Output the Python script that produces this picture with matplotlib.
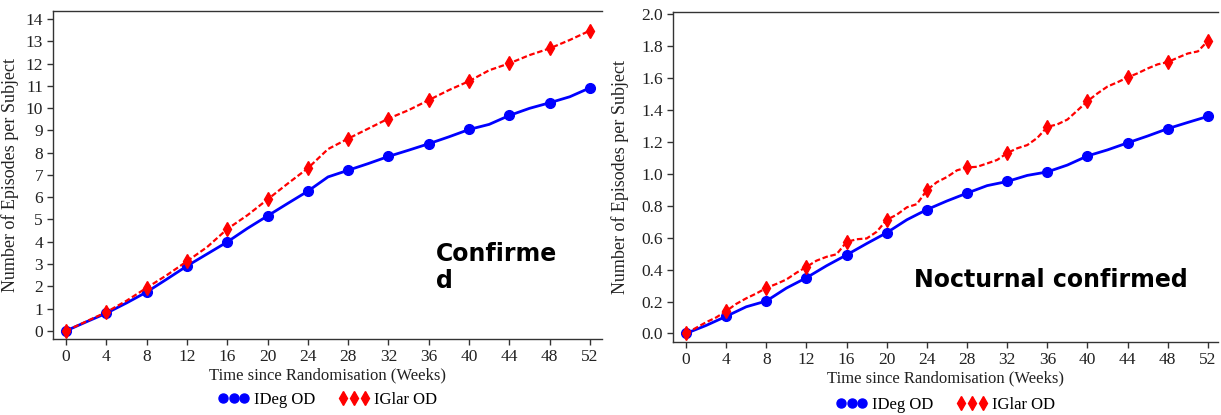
import matplotlib
matplotlib.use('Agg')
import matplotlib.pyplot as plt
from matplotlib.lines import Line2D
from matplotlib.ticker import FormatStrFormatter

# Confirmed episodes (left panel)
conf_weeks = list(range(0, 53, 2))
conf_ideg = [0, 0.4, 0.79, 1.25, 1.74, 2.32, 2.91, 3.45, 3.99, 4.6, 5.16, 5.72, 6.27,
             6.91, 7.21, 7.51, 7.83, 8.11, 8.4, 8.71, 9.04, 9.27, 9.67, 9.99, 10.24, 10.51, 10.91]
conf_iglar = [0, 0.42, 0.84, 1.35, 1.93, 2.5, 3.12, 3.76, 4.57, 5.19, 5.9, 6.61, 7.3,
              8.16, 8.63, 9.08, 9.53, 9.91, 10.36, 10.81, 11.21, 11.7, 12.01, 12.38, 12.68, 13.06, 13.48]

# Nocturnal confirmed episodes (right panel)
noct_ideg_weeks = list(range(0, 53, 2))
noct_ideg = [0, 0.05, 0.107, 0.167, 0.203, 0.284, 0.349, 0.424, 0.492, 0.563, 0.631, 0.712, 0.776,
             0.83, 0.879, 0.926, 0.952, 0.99, 1.012, 1.055, 1.112, 1.15, 1.194, 1.237, 1.283, 1.322, 1.36]
noct_iglar_weeks = list(range(0, 53))
noct_iglar = [0, 0.035, 0.07, 0.1, 0.14, 0.185, 0.22, 0.25, 0.285, 0.31, 0.338, 0.38, 0.417,
              0.456, 0.48, 0.496, 0.573, 0.59, 0.595, 0.637, 0.712, 0.744, 0.79, 0.81, 0.898,
              0.948, 0.98, 1.022, 1.04, 1.044, 1.065, 1.087, 1.13, 1.16, 1.18, 1.225, 1.294,
              1.31, 1.34, 1.397, 1.455, 1.504, 1.547, 1.574, 1.604, 1.63, 1.66, 1.686, 1.70,
              1.728, 1.754, 1.767, 1.833]

x_ticks = list(range(0, 53, 4))
conf_yticks = list(range(0, 15))
noct_yticks = [0.0, 0.2, 0.4, 0.6, 0.8, 1.0, 1.2, 1.4, 1.6, 1.8, 2.0]
labels = ['IDeg OD', 'IGlar OD']

BLUE = '#0000FF'
RED = '#FF0000'
SERIF = 'Liberation Serif'


def every4(weeks):
    return [i for i, w in enumerate(weeks) if w % 4 == 0]


def style_axes(ax, yticks, ylim, xlim):
    ax.spines['right'].set_visible(False)
    for s in ['left', 'bottom', 'top']:
        ax.spines[s].set_color('#333333')
        ax.spines[s].set_linewidth(1.0)
    ax.set_xticks(x_ticks)
    ax.set_yticks(yticks)
    ax.set_xlim(*xlim)
    ax.set_ylim(*ylim)
    ax.tick_params(direction='out', length=4, width=1, color='#333333', pad=3,
                   labelsize=12.5, labelcolor='#222222')
    for lab in ax.get_xticklabels() + ax.get_yticklabels():
        lab.set_fontfamily(SERIF)
    ax.set_xlabel('Time since Randomisation (Weeks)', fontfamily=SERIF, fontsize=12,
                  labelpad=2, color='#222222')
    ax.set_ylabel('Number of Episodes per Subject', fontfamily=SERIF, fontsize=13,
                  color='#222222')


def add_legend(ax, y):
    handles = [Line2D([], [], marker='o', linestyle='None', color=BLUE, markersize=6.5),
               Line2D([], [], marker='d', linestyle='None', color=RED, markersize=7.5)]
    ax.legend(handles, labels, loc='center', bbox_to_anchor=(0.5, y), ncol=2, numpoints=3,
              frameon=False, handlelength=1.9, handletextpad=0.25, columnspacing=1.4,
              prop={'family': SERIF, 'size': 12})


fig = plt.figure(figsize=(12.21, 4.15), dpi=100)
ax1 = fig.add_axes([0.0432, 0.183, 0.4498, 0.791])
ax2 = fig.add_axes([0.551, 0.175, 0.4465, 0.795])

# left panel
ax1.plot(conf_weeks, conf_ideg, color=BLUE, lw=2, marker='o', markersize=7,
         markevery=every4(conf_weeks))
ax1.plot(conf_weeks, conf_iglar, color=RED, lw=1.6, linestyle=(0, (2.5, 1.2)), marker='d',
         markersize=7.5, markevery=every4(conf_weeks))
style_axes(ax1, conf_yticks, (-0.37, 14.37), (-1.32, 53.19))
ax1.yaxis.set_label_coords(-0.062, 0.5)
ax1.text(0.698, 0.1553, 'Confirme\nd', transform=ax1.transAxes, fontsize=17,
         fontweight='bold', fontfamily='DejaVu Sans', va='baseline', ha='left',
         linespacing=1.15)
add_legend(ax1, -0.186)

# right panel
ax2.plot(noct_ideg_weeks, noct_ideg, color=BLUE, lw=2, marker='o', markersize=7,
         markevery=every4(noct_ideg_weeks))
ax2.plot(noct_iglar_weeks, noct_iglar, color=RED, lw=1.6, linestyle=(0, (2.5, 1.2)), marker='d',
         markersize=7.5, markevery=every4(noct_iglar_weeks))
style_axes(ax2, noct_yticks, (-0.056, 2.011), (-1.32, 53.0))
ax2.yaxis.set_major_formatter(FormatStrFormatter('%.1f'))
for lab in ax2.get_yticklabels():
    lab.set_fontfamily(SERIF)
ax2.yaxis.set_label_coords(-0.08, 0.5)
ax2.text(0.4416, 0.1676, 'Nocturnal confirmed', transform=ax2.transAxes, fontsize=17,
         fontweight='bold', fontfamily='DejaVu Sans', va='baseline', ha='left')
add_legend(ax2, -0.19)

fig.savefig('out.png', dpi=100)
